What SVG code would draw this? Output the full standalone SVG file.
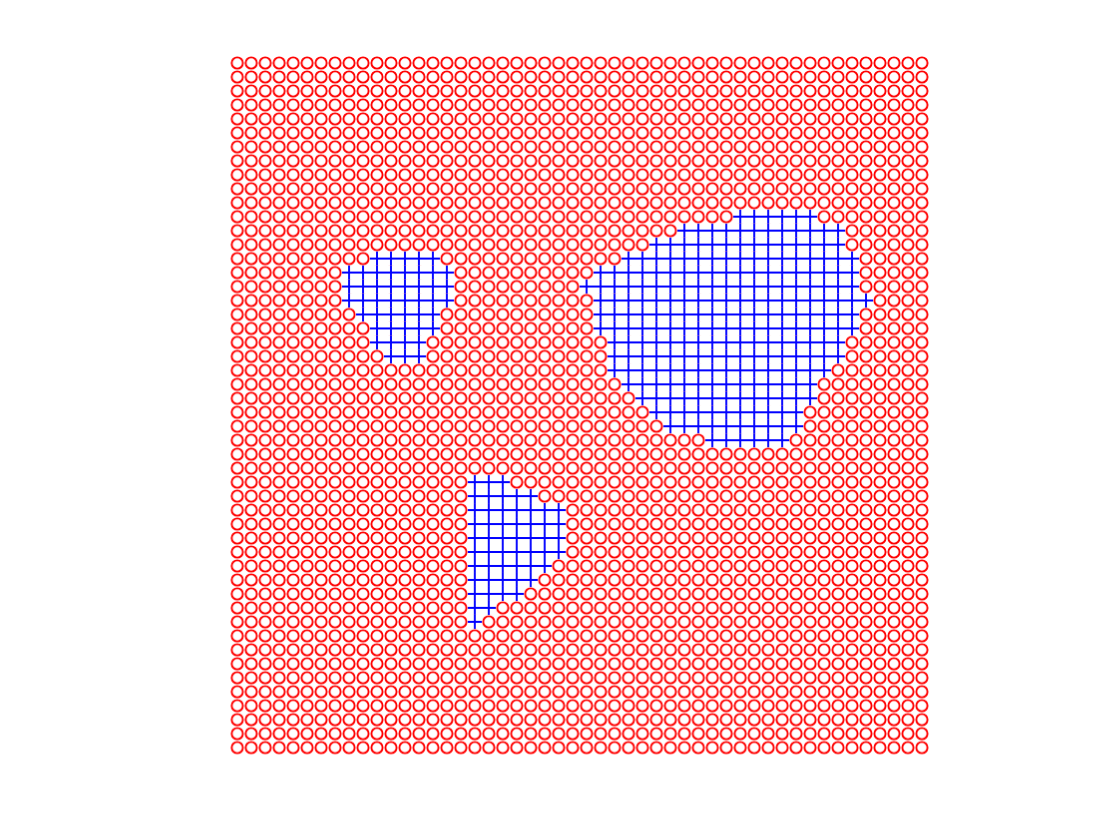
<svg xmlns="http://www.w3.org/2000/svg" width="1120" height="840" viewBox="0 0 1120 840">
  <defs>
    <pattern id="ring" patternUnits="userSpaceOnUse" x="230.314" y="56.014" width="13.9714" height="13.9714">
      <circle cx="6.9857" cy="6.9857" r="5.6" fill="none" stroke="#ff0000" stroke-width="1.9"/>
    </pattern>
    <pattern id="plus" patternUnits="userSpaceOnUse" x="230.314" y="56.014" width="13.9714" height="13.9714">
      <rect width="13.9714" height="13.9714" fill="#ffffff"/>
      <path d="M0 6.9857H13.9714M6.9857 0V13.9714" stroke="#0000ff" stroke-width="1.9" fill="none"/>
    </pattern>
  </defs>
  <style>
    .blue { fill: url(#plus); }
  </style>
  <rect width="1120" height="840" fill="#ffffff"/>
  <g id="red-markers">
    <rect x="230.314" y="56.014" width="698.57" height="698.57" fill="url(#ring)"/>
  </g>
  <g id="region-1" class="blue">
    <rect x="370.029" y="251.614" width="69.857" height="13.9714"/>
    <rect x="342.086" y="265.586" width="111.771" height="13.9714"/>
    <rect x="342.086" y="279.557" width="111.771" height="13.9714"/>
    <rect x="342.086" y="293.529" width="111.771" height="13.9714"/>
    <rect x="356.057" y="307.5" width="83.829" height="13.9714"/>
    <rect x="370.029" y="321.471" width="69.857" height="13.9714"/>
    <rect x="370.029" y="335.443" width="55.886" height="13.9714"/>
    <rect x="384.0" y="349.414" width="41.914" height="13.9714"/>
  </g>
  <g id="region-2" class="blue">
    <rect x="733.286" y="209.7" width="83.829" height="13.9714"/>
    <rect x="677.4" y="223.671" width="167.657" height="13.9714"/>
    <rect x="649.457" y="237.643" width="195.6" height="13.9714"/>
    <rect x="621.514" y="251.614" width="237.514" height="13.9714"/>
    <rect x="593.571" y="265.586" width="265.457" height="13.9714"/>
    <rect x="579.6" y="279.557" width="279.429" height="13.9714"/>
    <rect x="593.571" y="293.529" width="279.429" height="13.9714"/>
    <rect x="593.571" y="307.5" width="265.457" height="13.9714"/>
    <rect x="593.571" y="321.471" width="265.457" height="13.9714"/>
    <rect x="607.543" y="335.443" width="237.514" height="13.9714"/>
    <rect x="607.543" y="349.414" width="237.514" height="13.9714"/>
    <rect x="607.543" y="363.386" width="223.543" height="13.9714"/>
    <rect x="621.514" y="377.357" width="195.6" height="13.9714"/>
    <rect x="635.486" y="391.329" width="181.629" height="13.9714"/>
    <rect x="649.457" y="405.3" width="153.686" height="13.9714"/>
    <rect x="663.429" y="419.271" width="139.714" height="13.9714"/>
    <rect x="705.343" y="433.243" width="83.829" height="13.9714"/>
  </g>
  <g id="region-3" class="blue">
    <rect x="467.829" y="475.157" width="41.914" height="13.9714"/>
    <rect x="467.829" y="489.129" width="69.857" height="13.9714"/>
    <rect x="467.829" y="503.1" width="97.8" height="13.9714"/>
    <rect x="467.829" y="517.071" width="97.8" height="13.9714"/>
    <rect x="467.829" y="531.043" width="97.8" height="13.9714"/>
    <rect x="467.829" y="545.014" width="97.8" height="13.9714"/>
    <rect x="467.829" y="558.986" width="83.829" height="13.9714"/>
    <rect x="467.829" y="572.957" width="69.857" height="13.9714"/>
    <rect x="467.829" y="586.929" width="55.886" height="13.9714"/>
    <rect x="467.829" y="600.9" width="27.943" height="13.9714"/>
    <rect x="467.829" y="614.871" width="13.971" height="13.9714"/>
  </g>
</svg>
